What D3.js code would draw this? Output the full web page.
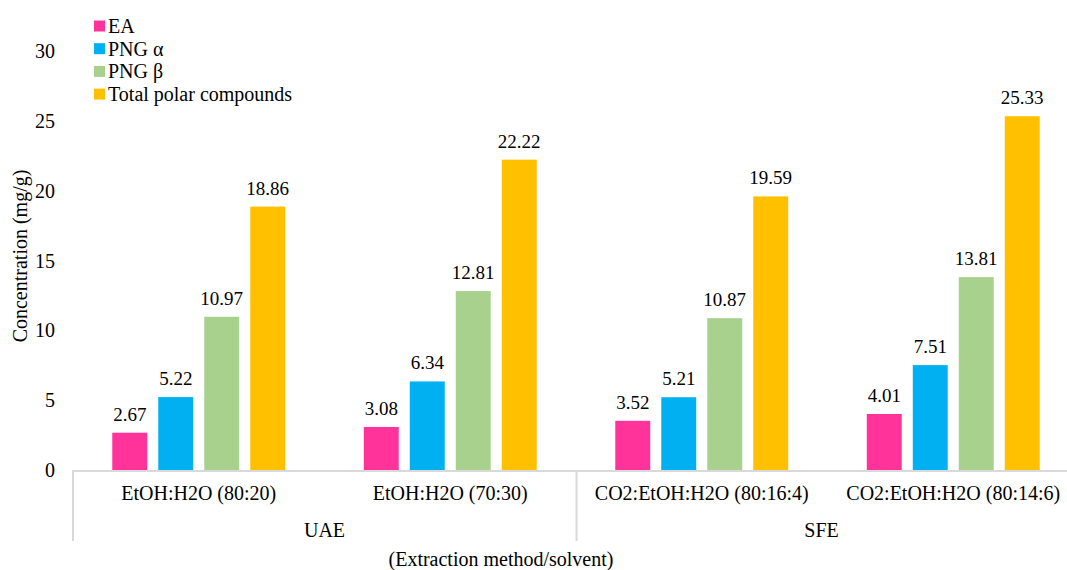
<!DOCTYPE html>
<html><head><meta charset="utf-8">
<script src="https://cdn.jsdelivr.net/npm/d3@7"></script>
<style>body{margin:0;background:#fff}svg{display:block}text{font-family:"Liberation Serif","Times New Roman",serif;fill:#000}</style>
</head><body><svg id="c" width="1067" height="570"></svg>
<script>
const categories = ["EtOH:H2O (80:20)","EtOH:H2O (70:30)","CO2:EtOH:H2O (80:16:4)","CO2:EtOH:H2O (80:14:6)"];
const methods = ["UAE","UAE","SFE","SFE"];
const seriesNames = ["EA","PNG α","PNG β","Total polar compounds"];
const EA = [2.67,3.08,3.52,4.01];
const PNGa = [5.22,6.34,5.21,7.51];
const PNGb = [10.97,12.81,10.87,13.81];
const Total = [18.86,22.22,19.59,25.33];
const yTicks = [0,5,10,15,20,25,30];
const colors = ["#FF3399","#00B0F0","#A9D18E","#FFC000"];
const seriesVals = [EA,PNGa,PNGb,Total];

const svg = d3.select("#c");
const x0 = d3.scaleBand().domain(categories).range([73,1079]).padding(0);
const x1 = d3.scaleBand().domain(seriesNames).range([0,x0.bandwidth()]).paddingInner(0.24).paddingOuter(0.854);
const y = d3.scaleLinear().domain([0,30]).range([470,51]);
const color = d3.scaleOrdinal().domain(seriesNames).range(colors);

// y tick labels
svg.append("g").selectAll("text").data(yTicks).join("text")
  .attr("x",55).attr("y",d=>y(d)).attr("dy","0.35em").attr("text-anchor","end")
  .attr("font-size",20).text(d=>d);

// bars
const data = [];
categories.forEach((c,i)=>seriesNames.forEach((s,j)=>data.push({c,s,v:seriesVals[j][i]})));
svg.append("g").selectAll("rect").data(data).join("rect")
  .attr("x",d=>x0(d.c)+x1(d.s)).attr("width",x1.bandwidth())
  .attr("y",d=>y(d.v)).attr("height",d=>y(0)-y(d.v)).attr("fill",d=>color(d.s));
svg.append("g").selectAll("text").data(data).join("text")
  .attr("x",d=>x0(d.c)+x1(d.s)+x1.bandwidth()/2).attr("y",d=>y(d.v)-12)
  .attr("text-anchor","middle").attr("font-size",19).text(d=>d.v.toFixed(2));

// axis lines
const ax = svg.append("g").attr("stroke","#d9d9d9").attr("stroke-width",2);
ax.append("line").attr("x1",73).attr("x2",1079).attr("y1",471).attr("y2",471);
ax.append("line").attr("x1",73).attr("x2",73).attr("y1",470).attr("y2",541);
ax.append("line").attr("x1",x0(categories[2])+0.5).attr("x2",x0(categories[2])+0.5).attr("y1",470).attr("y2",541);

// category labels
svg.append("g").selectAll("text").data(categories).join("text")
  .attr("x",d=>x0(d)+x0.bandwidth()/2).attr("y",500).attr("text-anchor","middle")
  .attr("font-size",20).text(d=>d);
// method labels
const groups = d3.groups(categories.map((c,i)=>({c,m:methods[i]})), d=>d.m);
svg.append("g").selectAll("text").data(groups).join("text")
  .attr("x",g=>{const a=x0(g[1][0].c), b=x0(g[1][g[1].length-1].c)+x0.bandwidth(); return (a+Math.min(b,1067))/2;})
  .attr("y",537).attr("text-anchor","middle").attr("font-size",20).text(g=>g[0]);

svg.append("text").attr("x",501).attr("y",566).attr("text-anchor","middle").attr("font-size",20).text("(Extraction method/solvent)");
svg.append("text").attr("transform","translate(27,256) rotate(-90)").attr("text-anchor","middle").attr("font-size",20).text("Concentration (mg/g)");

// legend
const lg = svg.append("g").selectAll("g").data(seriesNames).join("g")
  .attr("transform",(d,i)=>`translate(94,${26+i*22.7})`);
lg.append("rect").attr("x",0).attr("y",-5.5).attr("width",11).attr("height",11).attr("fill",d=>color(d));
lg.append("text").attr("x",14).attr("dy","0.35em").attr("font-size",20).text(d=>d);
</script></body></html>
